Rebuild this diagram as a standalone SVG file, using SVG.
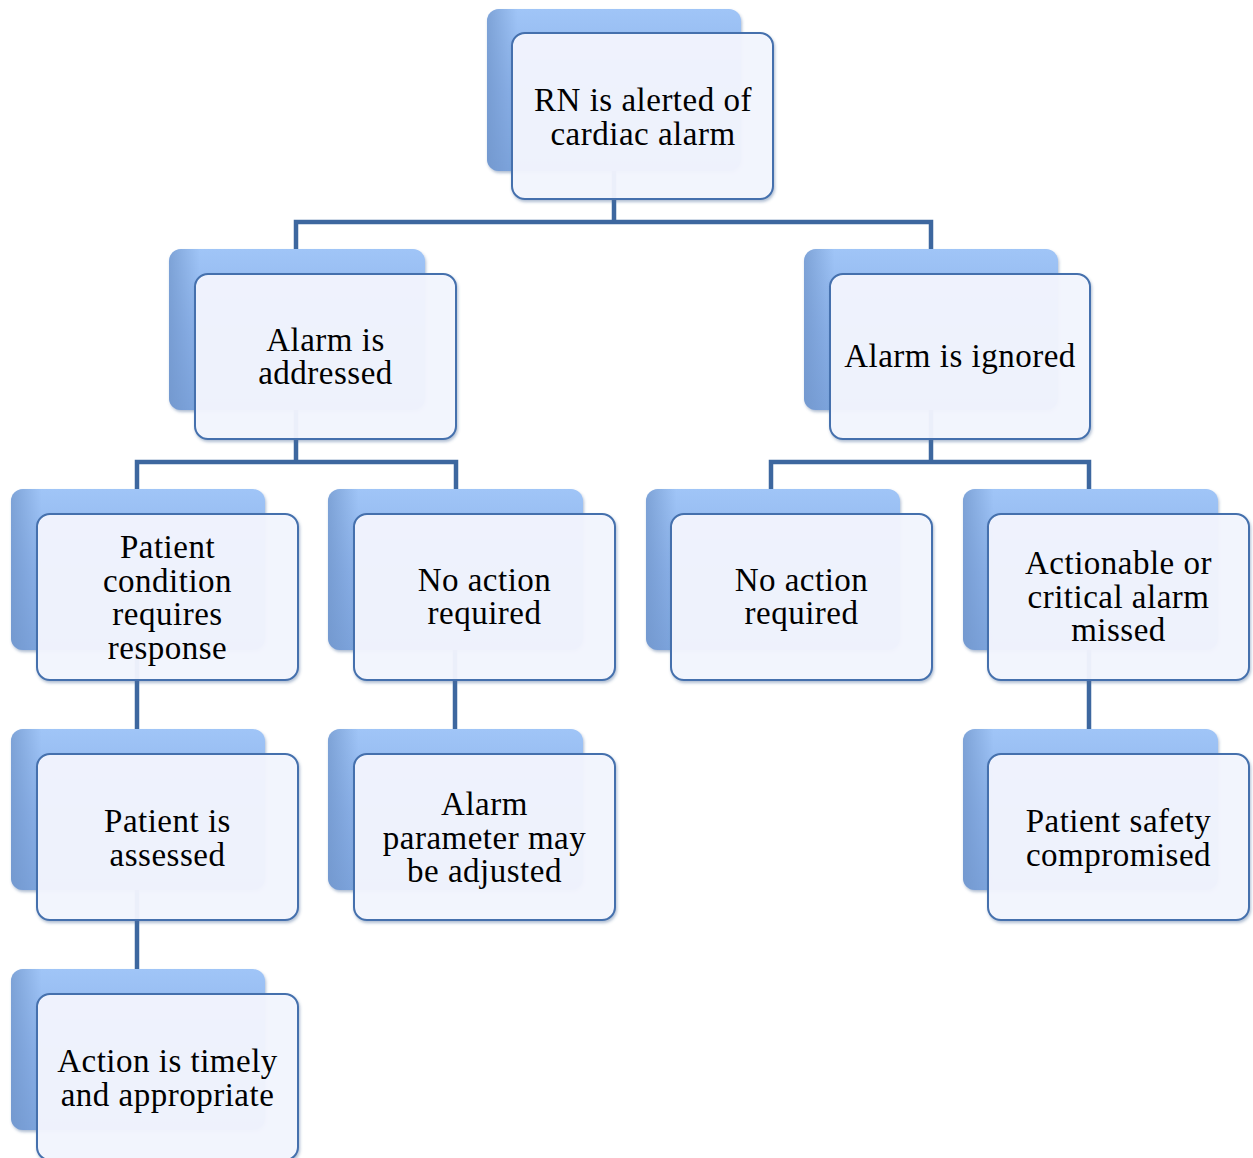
<svg xmlns="http://www.w3.org/2000/svg" width="1253" height="1158" viewBox="0 0 1253 1158">
<defs>
<linearGradient id="backG" x1="0" y1="0" x2="0" y2="1">
<stop offset="0" stop-color="#a0c5f7"/>
<stop offset="0.5" stop-color="#8cb2ea"/>
<stop offset="1" stop-color="#7ea5de"/>
</linearGradient>
<linearGradient id="backL" x1="0" y1="0" x2="1" y2="0">
<stop offset="0" stop-color="#6f94c9" stop-opacity="0.7"/>
<stop offset="0.12" stop-color="#6f94c9" stop-opacity="0"/>
</linearGradient>
<filter id="sh" x="-10%" y="-10%" width="120%" height="120%">
<feDropShadow dx="1" dy="2" stdDeviation="1.5" flood-color="#4a6a9a" flood-opacity="0.45"/>
</filter>
</defs>
<style>
.back{fill:url(#backG);filter:url(#sh)}
.bevel{fill:url(#backL)}
.front{fill:#f4f6ff;fill-opacity:0.94;stroke:#4470ad;stroke-width:2;filter:url(#sh)}
.lbl{font-family:"Liberation Serif","Times New Roman",serif;font-size:33px;letter-spacing:0.5px;fill:#000;text-anchor:middle}
.con{fill:none;stroke:#3d679f;stroke-width:4.5}
</style>

<g id="connectors">
<path class="con" d="M614 170 V222 M296 249 V222 H931 V249"/>
<path class="con" d="M296 410 V462 M137 489 V462 H456 V489"/>
<path class="con" d="M931 410 V462 M771 489 V462 H1089 V489"/>
<path class="con" d="M137 650 V729 M455 650 V729 M1089 650 V729"/>
<path class="con" d="M137 890 V969"/>
</g>

<g id="n-root">
<rect class="back" x="487" y="9" width="254" height="162" rx="12"/>
<rect class="bevel" x="487" y="9" width="254" height="162" rx="12"/>
<rect class="front" x="512" y="33" width="261" height="166" rx="13"/>
<text class="lbl"><tspan x="643" y="111">RN is alerted of</tspan><tspan x="643" y="145">cardiac alarm</tspan></text>
</g>

<g id="n-addressed">
<rect class="back" x="169" y="249" width="256" height="161" rx="12"/>
<rect class="bevel" x="169" y="249" width="256" height="161" rx="12"/>
<rect class="front" x="195" y="274" width="261" height="165" rx="13"/>
<text class="lbl"><tspan x="325.5" y="351">Alarm is</tspan><tspan x="325.5" y="384">addressed</tspan></text>
</g>

<g id="n-ignored">
<rect class="back" x="804" y="249" width="254" height="161" rx="12"/>
<rect class="bevel" x="804" y="249" width="254" height="161" rx="12"/>
<rect class="front" x="830" y="274" width="260" height="165" rx="13"/>
<text class="lbl"><tspan x="960" y="367">Alarm is ignored</tspan></text>
</g>

<g id="n-condition">
<rect class="back" x="11" y="489" width="254" height="161" rx="12"/>
<rect class="bevel" x="11" y="489" width="254" height="161" rx="12"/>
<rect class="front" x="37" y="514" width="261" height="166" rx="13"/>
<text class="lbl"><tspan x="167.5" y="558">Patient</tspan><tspan x="167.5" y="592">condition</tspan><tspan x="167.5" y="625">requires</tspan><tspan x="167.5" y="659">response</tspan></text>
</g>

<g id="n-noaction-l">
<rect class="back" x="328" y="489" width="255" height="161" rx="12"/>
<rect class="bevel" x="328" y="489" width="255" height="161" rx="12"/>
<rect class="front" x="354" y="514" width="261" height="166" rx="13"/>
<text class="lbl"><tspan x="484.5" y="591">No action</tspan><tspan x="484.5" y="624">required</tspan></text>
</g>

<g id="n-noaction-r">
<rect class="back" x="646" y="489" width="254" height="161" rx="12"/>
<rect class="bevel" x="646" y="489" width="254" height="161" rx="12"/>
<rect class="front" x="671" y="514" width="261" height="166" rx="13"/>
<text class="lbl"><tspan x="801.5" y="591">No action</tspan><tspan x="801.5" y="624">required</tspan></text>
</g>

<g id="n-actionable">
<rect class="back" x="963" y="489" width="255" height="161" rx="12"/>
<rect class="bevel" x="963" y="489" width="255" height="161" rx="12"/>
<rect class="front" x="988" y="514" width="261" height="166" rx="13"/>
<text class="lbl"><tspan x="1118.5" y="574">Actionable or</tspan><tspan x="1118.5" y="608">critical alarm</tspan><tspan x="1118.5" y="641">missed</tspan></text>
</g>

<g id="n-assessed">
<rect class="back" x="11" y="729" width="254" height="161" rx="12"/>
<rect class="bevel" x="11" y="729" width="254" height="161" rx="12"/>
<rect class="front" x="37" y="754" width="261" height="166" rx="13"/>
<text class="lbl"><tspan x="167.5" y="832">Patient is</tspan><tspan x="167.5" y="866">assessed</tspan></text>
</g>

<g id="n-parameter">
<rect class="back" x="328" y="729" width="255" height="161" rx="12"/>
<rect class="bevel" x="328" y="729" width="255" height="161" rx="12"/>
<rect class="front" x="354" y="754" width="261" height="166" rx="13"/>
<text class="lbl"><tspan x="484.5" y="815">Alarm</tspan><tspan x="484.5" y="849">parameter may</tspan><tspan x="484.5" y="882">be adjusted</tspan></text>
</g>

<g id="n-safety">
<rect class="back" x="963" y="729" width="255" height="161" rx="12"/>
<rect class="bevel" x="963" y="729" width="255" height="161" rx="12"/>
<rect class="front" x="988" y="754" width="261" height="166" rx="13"/>
<text class="lbl"><tspan x="1118.5" y="832">Patient safety</tspan><tspan x="1118.5" y="866">compromised</tspan></text>
</g>

<g id="n-timely">
<rect class="back" x="11" y="969" width="254" height="161" rx="12"/>
<rect class="bevel" x="11" y="969" width="254" height="161" rx="12"/>
<rect class="front" x="37" y="994" width="261" height="166" rx="13"/>
<text class="lbl"><tspan x="167.5" y="1072">Action is timely</tspan><tspan x="167.5" y="1106">and appropriate</tspan></text>
</g>
</svg>
